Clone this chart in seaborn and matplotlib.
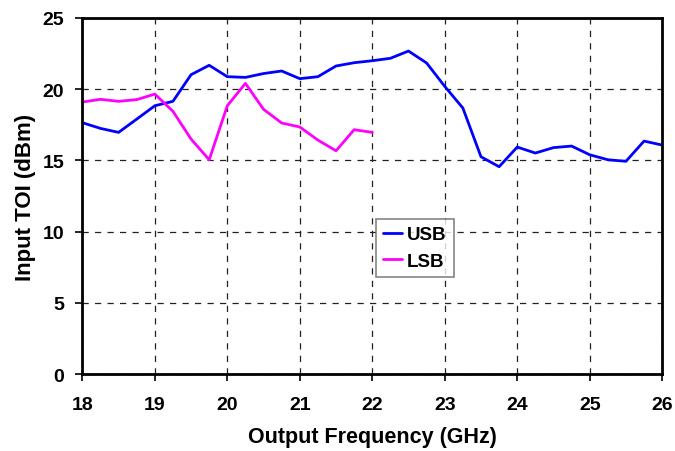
import matplotlib
matplotlib.use("Agg")
import matplotlib.pyplot as plt
import seaborn as sns
import pandas as pd

# Data
freq_usb = [18.0, 18.25, 18.5, 18.75, 19.0, 19.25, 19.5, 19.75, 20.0, 20.25, 20.5, 20.75,
            21.0, 21.25, 21.5, 21.75, 22.0, 22.25, 22.5, 22.75, 23.0, 23.25, 23.5, 23.75,
            24.0, 24.25, 24.5, 24.75, 25.0, 25.25, 25.5, 25.75, 26.0]
toi_usb = [17.65, 17.25, 16.97, 17.9, 18.84, 19.15, 21.02, 21.68, 20.88, 20.83, 21.1, 21.28,
           20.74, 20.88, 21.63, 21.86, 22.0, 22.17, 22.68, 21.84, 20.2, 18.68, 15.26, 14.56,
           15.94, 15.52, 15.9, 16.01, 15.4, 15.05, 14.94, 16.36, 16.08]

freq_lsb = [18.0, 18.25, 18.5, 18.75, 19.0, 19.25, 19.5, 19.75, 20.0, 20.25, 20.5, 20.75,
            21.0, 21.25, 21.5, 21.75, 22.0]
toi_lsb = [19.1, 19.29, 19.15, 19.27, 19.66, 18.45, 16.5, 15.05, 18.84, 20.41, 18.59, 17.63,
           17.35, 16.43, 15.68, 17.16, 16.97]

x_ticks = [18, 19, 20, 21, 22, 23, 24, 25, 26]
y_ticks = [0, 5, 10, 15, 20, 25]

usb = pd.DataFrame({"freq": freq_usb, "toi": toi_usb})
lsb = pd.DataFrame({"freq": freq_lsb, "toi": toi_lsb})

sns.set_style("white", {"text.color": "black", "axes.labelcolor": "black",
                        "xtick.color": "black", "ytick.color": "black"})
plt.rcParams["font.family"] = ["Liberation Sans", "DejaVu Sans"]
plt.rcParams["font.weight"] = "bold"

fig = plt.figure(figsize=(6.75, 4.52), dpi=100)
ax = fig.add_axes([0.122, 0.170, 0.859, 0.788])

sns.lineplot(data=usb, x="freq", y="toi", color="#0000ff", lw=2, label="USB", ax=ax)
sns.lineplot(data=lsb, x="freq", y="toi", color="#ff00ff", lw=2, label="LSB", ax=ax)

ax.set_xlim(18, 26)
ax.set_ylim(0, 25)
ax.set_xticks(x_ticks)
ax.set_yticks(y_ticks)
ax.grid(True, color="#222222", linestyle=(0, (5, 5)), linewidth=0.9)
ax.set_axisbelow(True)

for s in ax.spines.values():
    s.set_color("black")
    s.set_linewidth(2)

ax.tick_params(axis="both", direction="out", length=5, width=1.2, color="black",
               labelcolor="black", labelsize=14, bottom=True, left=True)
ax.tick_params(axis="x", pad=11)
ax.tick_params(axis="y", pad=8)
for lab in ax.get_xticklabels() + ax.get_yticklabels():
    lab.set_fontweight("bold")

ax.set_xlabel("Output Frequency (GHz)", fontsize=15.5, fontweight="bold",
              color="black", labelpad=9)
ax.set_ylabel("Input TOI (dBm)", fontsize=16, fontweight="bold",
              color="black", labelpad=5)

leg = ax.legend(loc="lower left", bbox_to_anchor=(0.506, 0.272), fancybox=False,
                frameon=True, fontsize=13.5, handlelength=1.0, handletextpad=0.25,
                borderpad=0.4, labelspacing=0.5, borderaxespad=0)
leg.get_frame().set_edgecolor("#666666")
leg.get_frame().set_linewidth(1.2)
for t in leg.get_texts():
    t.set_fontweight("bold")
    t.set_color("black")

fig.savefig("out.png", dpi=100)
